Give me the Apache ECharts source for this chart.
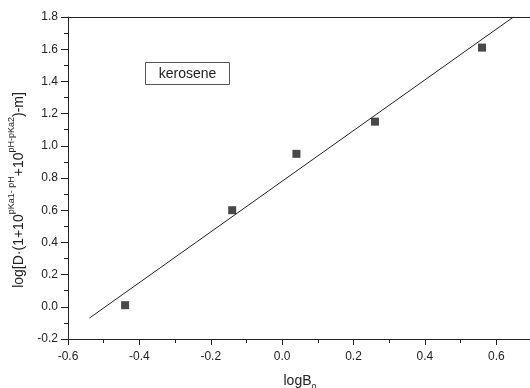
<!DOCTYPE html>
<html>
<head>
<meta charset="utf-8">
<script src="https://cdn.jsdelivr.net/npm/echarts@6/dist/echarts.min.js"></script>
<style>
html,body{margin:0;padding:0;background:#fff;}
#chart{width:530px;height:388px;}
</style>
</head>
<body>
<div id="chart"></div>
<script>
// Data
const pointsX = [-0.44, -0.14, 0.04, 0.26, 0.56];
const pointsY = [0.01, 0.60, 0.95, 1.15, 1.61];
const fitX = [-0.54, 0.648];
const fitY = [-0.07, 1.80];
const xTicks = [-0.6, -0.4, -0.2, 0.0, 0.2, 0.4, 0.6];
const yTicks = [-0.2, 0.0, 0.2, 0.4, 0.6, 0.8, 1.0, 1.2, 1.4, 1.6, 1.8];
const annotation = 'kerosene';

const font = '"Liberation Sans", Arial, sans-serif';
const ink = '#222';

const chart = echarts.init(document.getElementById('chart'));
chart.setOption({
  animation: false,
  backgroundColor: '#fff',
  grid: { left: 68, right: -2, top: 17, bottom: 49, outerBoundsMode: 'none', containLabel: false },
  xAxis: [{
    type: 'value', min: -0.6, max: 0.7, interval: 0.2,
    axisLine: { show: true, onZero: false, lineStyle: { color: ink, width: 1 } },
    axisTick: { show: true, length: 6, lineStyle: { color: ink } },
    minorTick: { show: true, splitNumber: 2, length: 4, lineStyle: { color: ink } },
    splitLine: { show: false },
    axisLabel: {
      color: ink, fontFamily: font, fontSize: 12, margin: 12,
      formatter: v => xTicks.some(t => Math.abs(t - v) < 1e-9) ? v.toFixed(1) : ''
    },
    name: '{m|logB}{s|0}',
    nameLocation: 'middle', nameGap: 32,
    nameTextStyle: {
      rich: {
        m: { fontFamily: font, fontSize: 14, color: ink },
        s: { fontFamily: font, fontSize: 9, color: ink, padding: [12, 0, 0, 0] }
      }
    }
  }, {
    type: 'value', min: -0.6, max: 0.7, position: 'top',
    axisLine: { show: true, onZero: false, lineStyle: { color: ink, width: 1 } },
    axisTick: { show: false }, axisLabel: { show: false }, splitLine: { show: false }
  }],
  yAxis: [{
    type: 'value', min: -0.2, max: 1.8, interval: 0.2,
    axisLine: { show: true, onZero: false, lineStyle: { color: ink, width: 1 } },
    axisTick: { show: true, length: 7, lineStyle: { color: ink } },
    minorTick: { show: true, splitNumber: 2, length: 4, lineStyle: { color: ink } },
    splitLine: { show: false },
    axisLabel: {
      color: ink, fontFamily: font, fontSize: 12, margin: 10,
      formatter: v => yTicks.some(t => Math.abs(t - v) < 1e-9) ? v.toFixed(1) : ''
    },
    name: '{m|log[D·(1+10}{s|pKa1- pH}{m|+10}{s|pH-pKa2}{m|)-m]}',
    nameLocation: 'middle', nameGap: 29, nameRotate: 90,
    nameTextStyle: {
      padding: [0, 24, 0, 0],
      rich: {
        m: { fontFamily: font, fontSize: 14, color: ink, padding: [7, 0, 0, 0] },
        s: { fontFamily: font, fontSize: 9, color: ink, padding: [0, 0, 9, 0] }
      }
    }
  }],
  series: [{
    type: 'line',
    data: fitX.map((x, i) => [x, fitY[i]]),
    showSymbol: false, symbol: 'none',
    lineStyle: { color: ink, width: 1 },
    z: 2
  }, {
    type: 'scatter',
    data: pointsX.map((x, i) => [x, pointsY[i]]),
    symbol: 'rect', symbolSize: 8,
    itemStyle: { color: '#1a1a1a' },
    z: 3
  }],
  graphic: [{
    type: 'rect',
    shape: { x: 145.5, y: 62.5, width: 84, height: 22 },
    style: { fill: '#fff', stroke: '#555', lineWidth: 1 }
  }, {
    type: 'text',
    x: 187.5, y: 74,
    style: { text: annotation, font: '14px ' + font, fill: ink, align: 'center', verticalAlign: 'middle' }
  }]
});
</script>
</body>
</html>
